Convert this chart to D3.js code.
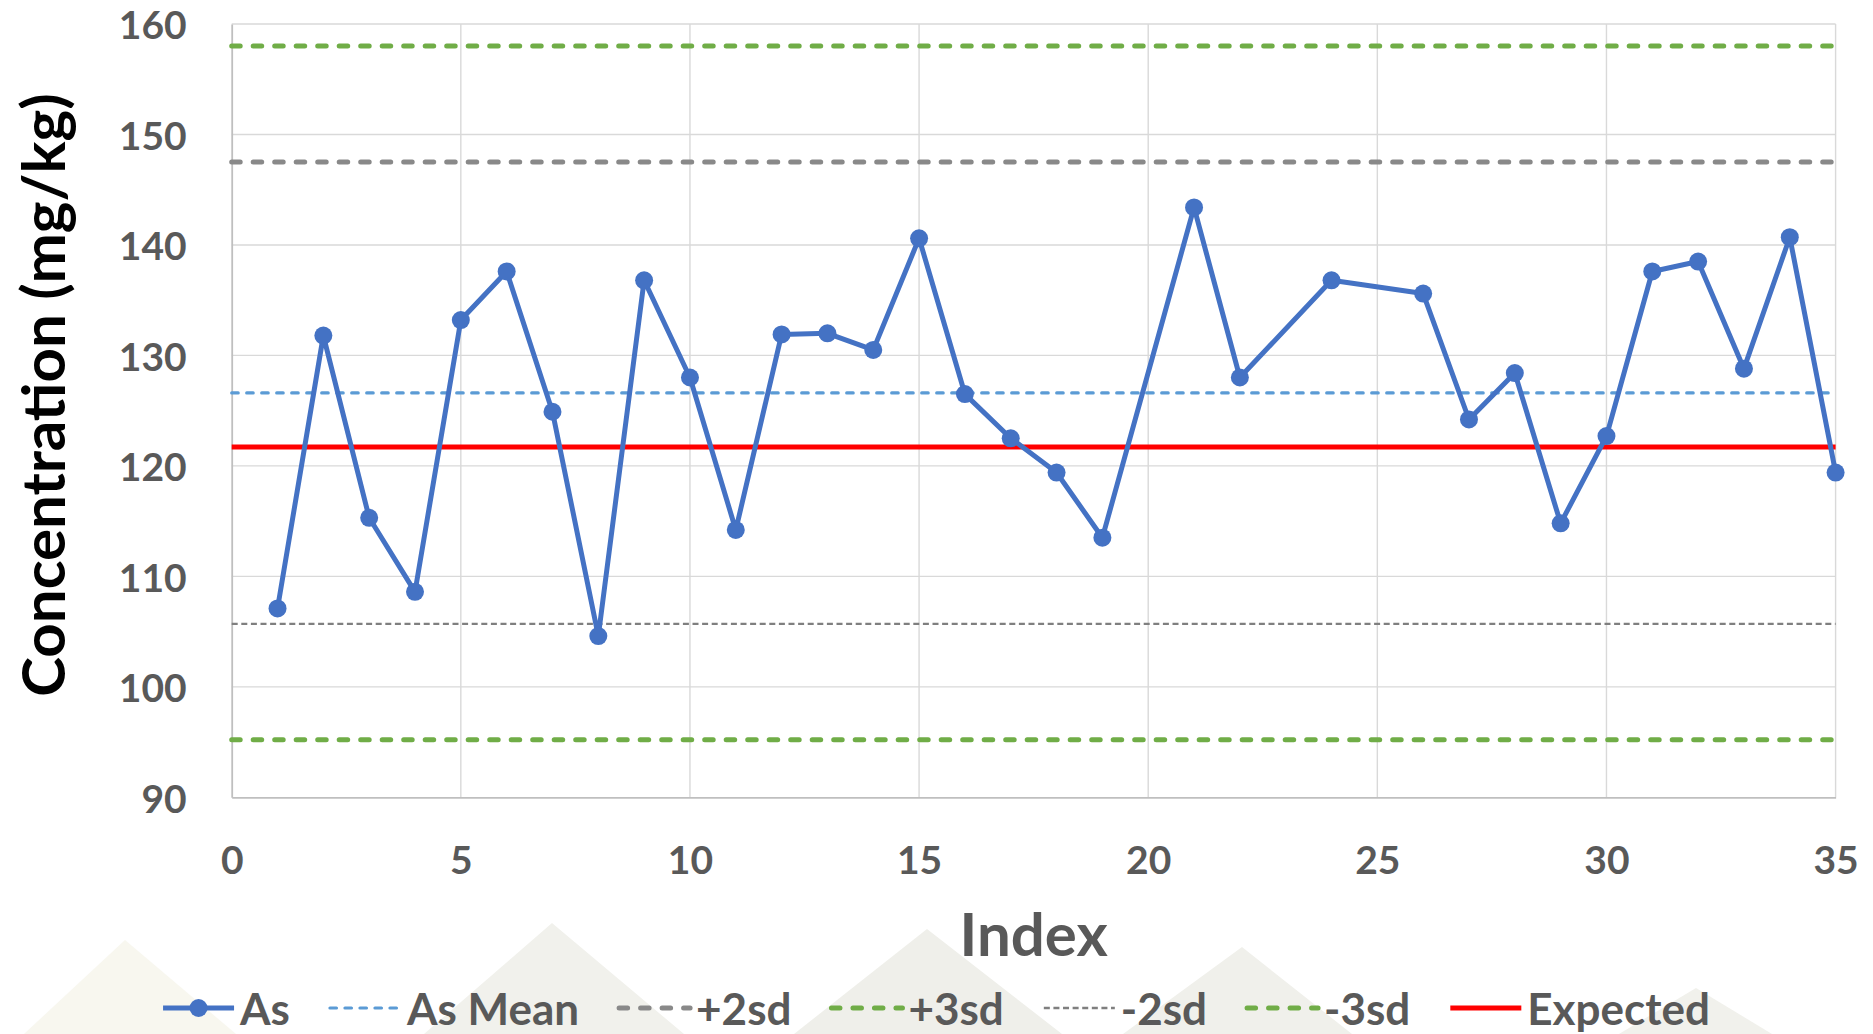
<!DOCTYPE html>
<html>
<head>
<meta charset="utf-8">
<script src="https://cdn.jsdelivr.net/npm/d3@7"></script>
<style>
  html, body { margin: 0; padding: 0; background: #ffffff; }
  svg { display: block; }
  text { font-family: Lato, "Open Sans", "DejaVu Sans", sans-serif; font-weight: 700; }
</style>
</head>
<body>
<svg id="chart" width="1873" height="1034"></svg>
<script>
// ---- data ----
const indexValues = [1,2,3,4,5,6,7,8,9,10,11,12,13,14,15,16,17,18,19,21,22,24,26,27,28,29,30,31,32,33,34,35];
const asValues = [107.1,131.8,115.3,108.6,133.2,137.6,124.9,104.6,136.8,128.0,114.2,131.9,132.0,130.5,140.6,126.5,122.5,119.4,113.5,143.4,128.0,136.8,135.6,124.2,128.4,114.8,122.7,137.6,138.5,128.8,140.7,119.4];
const refNames  = ["As Mean", "+2sd", "+3sd", "-2sd", "-3sd", "Expected"];
const refValues = [126.6, 147.5, 158.0, 105.7, 95.2, 121.7];
const xTicks = [0,5,10,15,20,25,30,35];
const yTicks = [90,100,110,120,130,140,150,160];
const legendNames = ["As", "As Mean", "+2sd", "+3sd", "-2sd", "-3sd", "Expected"];

// ---- styles ----
const styles = {
  "As":       {color:"#4472C4", width:5, dash:null, cap:"round"},
  "As Mean":  {color:"#5B9BD5", width:3.2, dash:"6.5,8.5", cap:"round"},
  "+2sd":     {color:"#898989", width:5, dash:"8.5,13", cap:"round"},
  "+3sd":     {color:"#70AD47", width:5, dash:"8.5,13", cap:"round"},
  "-2sd":     {color:"#7F7F7F", width:2.4, dash:"6,3.6", cap:"butt"},
  "-3sd":     {color:"#70AD47", width:5, dash:"8.5,13", cap:"round"},
  "Expected": {color:"#FF0000", width:5, dash:null, cap:"butt"}
};

const svg = d3.select("#chart");
const W = 1873, H = 1034;
const pLeft = 231.7, pRight = 1835.6, pTop = 24, pBottom = 797.3;

// background watermark triangles
const bg = svg.append("g");
[[125,940,24,236,"#f8f7ef"],[552,923,424,684,"#f1f1ec"],[927,929,794,1062,"#efefea"],
 [1242,947,1123,1352,"#f0f0eb"],[1696,988,1619,1772,"#f1f1ec"]].forEach(t => {
  bg.append("path").attr("d", `M${t[0]},${t[1]}L${t[3]},${H}L${t[2]},${H}Z`).attr("fill", t[4]);
});

const x = d3.scaleLinear().domain([0,35]).range([pLeft, pRight]);
const y = d3.scaleLinear().domain([90,160]).range([pBottom, pTop]);

// gridlines
const grid = svg.append("g");
grid.selectAll(".hg").data(yTicks.filter(v => v !== 90)).enter().append("line")
  .attr("x1", pLeft).attr("x2", pRight).attr("y1", d => y(d)).attr("y2", d => y(d))
  .attr("stroke", "#d9d9d9").attr("stroke-width", 1.4);
grid.selectAll(".vg").data(xTicks.filter(v => v !== 0)).enter().append("line")
  .attr("y1", pTop).attr("y2", pBottom).attr("x1", d => x(d)).attr("x2", d => x(d))
  .attr("stroke", "#d9d9d9").attr("stroke-width", 1.4);

// axes
const yAxis = svg.append("g").attr("transform", `translate(${pLeft},0)`)
  .call(d3.axisLeft(y).tickValues(yTicks).tickSize(0).tickPadding(45));
const xAxis = svg.append("g").attr("transform", `translate(0,${pBottom})`)
  .call(d3.axisBottom(x).tickValues(xTicks).tickSize(0).tickPadding(49));
[yAxis, xAxis].forEach(a => {
  a.select(".domain").attr("stroke", "#bfbfbf").attr("stroke-width", 1.8);
  a.selectAll("text").attr("fill", "#595959").style("font-size", "39px")
   .style("font-family", "Lato, sans-serif").style("font-weight", 700);
});
yAxis.selectAll("text").attr("dy", "0.38em");

// reference lines
refNames.forEach((n, i) => {
  const s = styles[n];
  svg.append("line").attr("x1", x(0)).attr("x2", x(35))
    .attr("y1", y(refValues[i])).attr("y2", y(refValues[i]))
    .attr("stroke", s.color).attr("stroke-width", s.width)
    .attr("stroke-dasharray", s.dash).attr("stroke-linecap", s.cap);
});

// As series
const line = d3.line().x((d, i) => x(indexValues[i])).y(d => y(d));
svg.append("path").datum(asValues).attr("d", line)
  .attr("fill", "none").attr("stroke", styles["As"].color).attr("stroke-width", 5)
  .attr("stroke-linejoin", "round");
svg.selectAll(".pt").data(asValues).enter().append("circle")
  .attr("cx", (d, i) => x(indexValues[i])).attr("cy", d => y(d)).attr("r", 9)
  .attr("fill", styles["As"].color);

// axis titles
svg.append("text").attr("transform", `translate(65,${395}) rotate(-90)`)
  .attr("text-anchor", "middle").attr("fill", "#000").style("font-size", "60px")
  .text("Concentration (mg/kg)");
svg.append("text").attr("x", (pLeft + pRight) / 2).attr("y", 956)
  .attr("text-anchor", "middle").attr("fill", "#595959").style("font-size", "60px")
  .text("Index");

// legend
const lg = svg.append("g");
const lineLen = 71, gapText = 6, gapItem = 40;
const items = legendNames.map(n => {
  const g = lg.append("g");
  const s = styles[n];
  const yl = 1008;
  g.append("line").attr("x1", 0).attr("x2", lineLen).attr("y1", yl).attr("y2", yl)
    .attr("stroke", s.color).attr("stroke-width", s.width)
    .attr("stroke-dasharray", s.dash).attr("stroke-linecap", n === "As" ? "butt" : s.cap);
  if (n === "As") g.append("circle").attr("cx", lineLen / 2).attr("cy", yl).attr("r", 9).attr("fill", s.color);
  const t = g.append("text").attr("x", lineLen + gapText).attr("y", 1025)
    .attr("fill", "#595959").style("font-size", "44px").text(n);
  return {g, w: lineLen + gapText + t.node().getComputedTextLength()};
});
const total = d3.sum(items, d => d.w) + gapItem * (items.length - 1);
let cx = W / 2 - total / 2;
items.forEach(it => { it.g.attr("transform", `translate(${cx},0)`); cx += it.w + gapItem; });
</script>
</body>
</html>
